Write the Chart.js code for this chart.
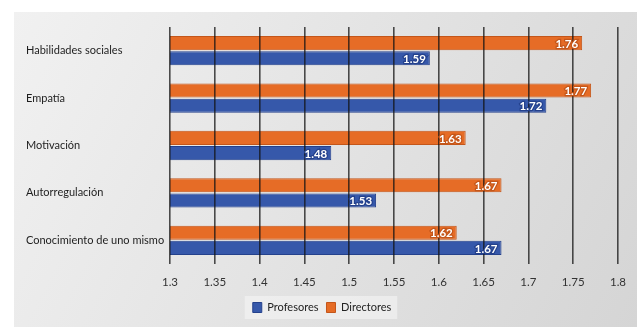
<!DOCTYPE html>
<html>
<head>
<meta charset="utf-8">
<script src="https://cdn.jsdelivr.net/npm/chart.js@4/dist/chart.umd.min.js"></script>
<style>
  html, body { margin: 0; padding: 0; background: #fff; }
  #wrap { position: relative; width: 639px; height: 327px; }
</style>
</head>
<body>
<div id="wrap"><canvas id="myChart" width="639" height="327"></canvas></div>
<script>
// Categories (top to bottom)
let categories = ['Habilidades sociales', 'Empatía', 'Motivación', 'Autorregulación', 'Conocimiento de uno mismo'];
// Values
let profesores = [1.59, 1.72, 1.48, 1.53, 1.67];
let directores = [1.76, 1.77, 1.63, 1.67, 1.62];
// x axis ticks
let xTicks = [1.3, 1.35, 1.4, 1.45, 1.5, 1.55, 1.6, 1.65, 1.7, 1.75, 1.8];

let orange = '#E66C26';
let blue = '#3658AA';

// grey gradient panel behind everything
let panelBg = {
    id: 'panelBg',
    beforeDraw(chart) {
        let c = chart.ctx;
        c.save();
        let g = c.createLinearGradient(14, 12, 637, 327);
        g.addColorStop(0, '#f1f1f1');
        g.addColorStop(1, '#d5d5d5');
        c.fillStyle = g;
        c.fillRect(14, 12, 623, 315);
        // lighter box behind legend
        let lg = chart.legend;
        if (lg && lg.legendHitBoxes && lg.legendHitBoxes.length) {
            let hb = lg.legendHitBoxes;
            let x0 = hb[0].left - 8, x1 = hb[hb.length - 1].left + hb[hb.length - 1].width + 6;
            c.fillStyle = 'rgba(245,245,245,0.6)';
            c.fillRect(x0, hb[0].top - 6, x1 - x0, hb[0].height + 12);
        }
        c.restore();
    }
};

// white value labels at bar ends
let valueLabels = {
    id: 'valueLabels',
    afterDraw(chart) {
        let c = chart.ctx;
        c.save();
        c.font = 'bold 11.5px Lato';
        c.textAlign = 'right';
        c.textBaseline = 'middle';
        chart.data.datasets.forEach((ds, i) => {
            chart.getDatasetMeta(i).data.forEach((bar, j) => {
                let txt = ds.data[j].toFixed(2);
                c.lineWidth = 2.5;
                c.strokeStyle = ds.borderColor;
                c.strokeText(txt, bar.x - 4, bar.y + 1);
                c.fillStyle = '#fff';
                c.fillText(txt, bar.x - 4, bar.y + 1);
            });
        });
        c.restore();
    }
};

let ctx = document.getElementById('myChart').getContext('2d');

let chart = new Chart(ctx, {
    type: 'bar',
    data: {
        labels: categories,
        datasets: [
            {
                label: 'Directores',
                data: directores,
                backgroundColor: orange,
                borderColor: '#C4561A',
                borderWidth: 1,
                categoryPercentage: 0.64,
                barPercentage: 0.93
            },
            {
                label: 'Profesores',
                data: profesores,
                backgroundColor: blue,
                borderColor: '#24418C',
                borderWidth: 1,
                categoryPercentage: 0.64,
                barPercentage: 0.93
            }
        ]
    },
    options: {
        indexAxis: 'y',
        responsive: false,
        animation: false,
        layout: { padding: { left: 26, right: 21, top: 27, bottom: 4 } },
        scales: {
            x: {
                min: 1.3,
                max: 1.8,
                afterBuildTicks(scale) {
                    scale.ticks = xTicks.map(v => ({ value: v }));
                },
                afterFit(scale) { scale.height = 30; },
                grid: {
                    z: 1,
                    color: 'rgba(20,20,20,0.75)',
                    lineWidth: 1.6,
                    drawTicks: false
                },
                border: { display: false },
                ticks: {
                    padding: 11,
                    color: '#333',
                    font: { family: 'Lato', size: 11.5 },
                    callback: v => String(Math.round(v * 100) / 100)
                }
            },
            y: {
                afterFit(scale) { scale.width = 144; },
                grid: { display: false },
                border: { display: false },
                ticks: {
                    crossAlign: 'far',
                    color: '#1e1e1e',
                    font: { family: 'Lato', size: 11 }
                }
            }
        },
        plugins: {
            legend: {
                position: 'bottom',
                reverse: true,
                labels: {
                    boxWidth: 9,
                    boxHeight: 10,
                    padding: 8,
                    color: '#222',
                    font: { family: 'Lato', size: 11 }
                }
            },
            tooltip: { enabled: false }
        }
    },
    plugins: [panelBg, valueLabels]
});
</script>
</body>
</html>
